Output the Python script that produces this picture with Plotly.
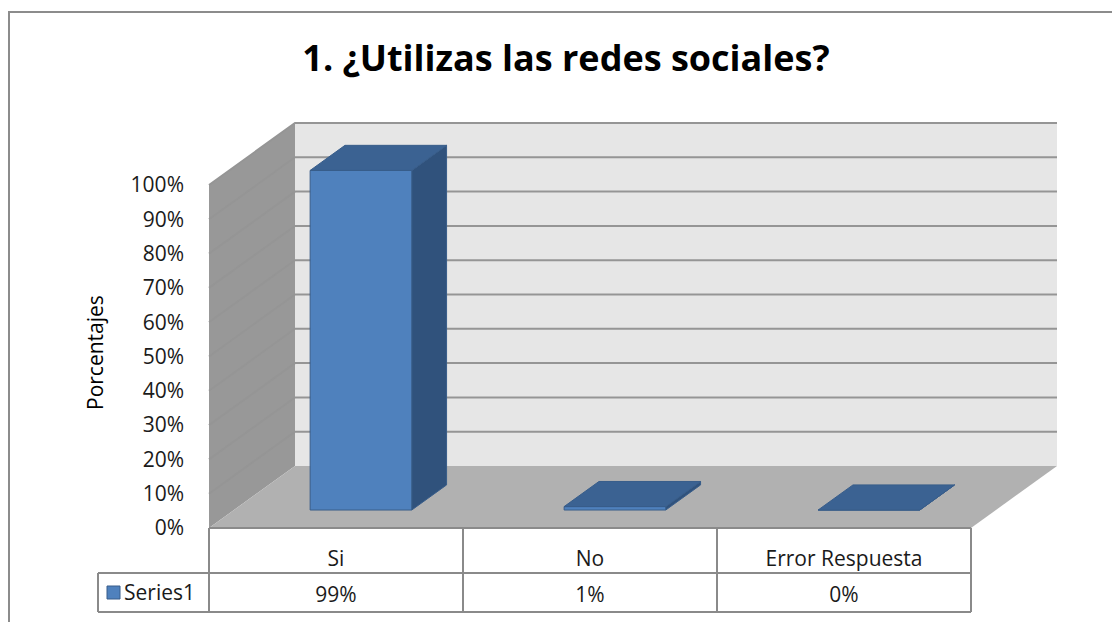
import plotly.graph_objects as go

# ---------------- data ----------------
categories = ["Si", "No", "Error Respuesta"]
values = [99, 1, 0]            # percent
series_name = "Series1"
tick_values = [0, 10, 20, 30, 40, 50, 60, 70, 80, 90, 100]
title_text = "1. ¿Utilizas las redes sociales?"
y_title = "Porcentajes"

# ---------------- layout constants (pixels) ----------------
W, H = 1112, 622
PX0, PY0 = 209, 528        # front-left corner of floor (0%)
SLOT = 254.0               # px per category
UNIT = 3.43                # px per percent
DEPTH_X, DEPTH_Y = 86.0, 62.0   # oblique depth offset

DX = DEPTH_X / SLOT
DY = DEPTH_Y / UNIT
N = len(categories)
BAR_W = 0.40
D0, D1 = 0.29, 0.695       # bar front/back depth fractions

FONT = "Open Sans"
FS = 21
TXT = "#1a1a1a"

def sh(x, y, d):
    return x + d * DX, y + d * DY

def py(pixel_y):
    return (PY0 - pixel_y) / UNIT

def px(pixel_x):
    return (pixel_x - PX0) / SLOT

fig = go.Figure()

def poly(xs, ys, fill, line_color=None, lw=0):
    fig.add_trace(go.Scatter(
        x=list(xs) + [xs[0]], y=list(ys) + [ys[0]], mode="lines",
        fill="toself", fillcolor=fill,
        line=dict(color=line_color or fill, width=lw),
        hoverinfo="skip", showlegend=False))

top = max(tick_values)

# back wall
bx = [sh(0, 0, 1)[0], sh(N, 0, 1)[0], sh(N, top, 1)[0], sh(0, top, 1)[0]]
by = [sh(0, 0, 1)[1], sh(N, 0, 1)[1], sh(N, top, 1)[1], sh(0, top, 1)[1]]
poly(bx, by, "#e6e6e6")
# side wall
poly([0, DX, DX, 0], [0, DY, top + DY, top], "#989898")
# floor
poly([0, DX, N + DX, N], [0, DY, DY, 0], "#b1b1b1")

# gridlines on walls
gx, gy = [], []
for t in tick_values:
    if t == 0:
        continue
    gx += [0, DX, N + DX, None]
    gy += [t, t + DY, t + DY, None]
fig.add_trace(go.Scatter(x=gx, y=gy, mode="lines",
                         line=dict(color="#959595", width=2),
                         hoverinfo="skip", showlegend=False))

# bars
FRONT, TOP, SIDE, EDGE = "#4f81bd", "#3b6292", "#30527c", "#385d8a"
for i, v in enumerate(values):
    xl = i + 0.5 - BAR_W / 2
    xr = i + 0.5 + BAR_W / 2
    p = [sh(xr, 0, D0), sh(xr, 0, D1), sh(xr, v, D1), sh(xr, v, D0)]
    poly([q[0] for q in p], [q[1] for q in p], SIDE, EDGE, 1)
    p = [sh(xl, 0, D0), sh(xr, 0, D0), sh(xr, v, D0), sh(xl, v, D0)]
    poly([q[0] for q in p], [q[1] for q in p], FRONT, EDGE, 1)
    p = [sh(xl, v, D0), sh(xr, v, D0), sh(xr, v, D1), sh(xl, v, D1)]
    poly([q[0] for q in p], [q[1] for q in p], TOP, EDGE, 1)

# data table
ROW1 = py(573)
ROW2 = py(612)
LEG_X = px(98)
tx, ty = [], []
tx += [0, N, None, LEG_X, N, None, LEG_X, N, None]
ty += [0, 0, None, ROW1, ROW1, None, ROW2, ROW2, None]
for k in range(N + 1):
    tx += [k, k, None]
    ty += [0, ROW2, None]
tx += [LEG_X, LEG_X, None]
ty += [ROW1, ROW2, None]
fig.add_trace(go.Scatter(x=tx, y=ty, mode="lines",
                         line=dict(color="#8a8a8a", width=2),
                         hoverinfo="skip", showlegend=False))

cx = [i + 0.5 for i in range(N)]
fig.add_trace(go.Scatter(x=cx, y=[py(561)] * N, mode="text",
                         text=categories, textposition="middle center",
                         textfont=dict(family=FONT, size=FS, color=TXT),
                         hoverinfo="skip", showlegend=False))
fig.add_trace(go.Scatter(x=cx, y=[py(597)] * N, mode="text",
                         text=[f"{v}%" for v in values], textposition="middle center",
                         textfont=dict(family=FONT, size=FS, color=TXT),
                         hoverinfo="skip", showlegend=False))
# legend key
fig.add_trace(go.Scatter(x=[px(113.5)], y=[py(592.5)], mode="markers",
                         marker=dict(symbol="square", size=13, color=FRONT,
                                     line=dict(color=EDGE, width=1)),
                         hoverinfo="skip", showlegend=False))
fig.add_trace(go.Scatter(x=[px(124)], y=[py(595)], mode="text",
                         text=[series_name], textposition="middle right",
                         textfont=dict(family=FONT, size=FS, color=TXT),
                         hoverinfo="skip", showlegend=False))

fig.update_layout(
    width=W, height=H,
    margin=dict(l=0, r=0, t=0, b=0),
    paper_bgcolor="white", plot_bgcolor="white",
    showlegend=False,
    title=dict(text=title_text, x=566 / W, xanchor="center",
               y=1 - 58 / H, yanchor="middle",
               font=dict(family=FONT, size=36, color="#000000", weight="bold")),
    xaxis=dict(range=[px(0), px(W)], visible=False, fixedrange=True),
    yaxis=dict(range=[py(H), py(0)],
               anchor="free", position=PX0 / W, side="left",
               tickmode="array", tickvals=tick_values,
               ticktext=[f"{t}%" for t in tick_values],
               ticks="", showgrid=False, zeroline=False, showline=False,
               ticklabelstandoff=25, fixedrange=True,
               tickfont=dict(family=FONT, size=FS, color=TXT)),
    annotations=[dict(text=y_title, textangle=-90, xref="paper", yref="paper",
                      x=95 / W, y=1 - 353 / H, xanchor="center", yanchor="middle",
                      showarrow=False,
                      font=dict(family=FONT, size=FS, color="#000000"))],
    shapes=[dict(type="rect", xref="paper", yref="paper",
                 x0=9 / W, y0=1 - 12 / H, x1=1.02, y1=-0.02,
                 line=dict(color="#8c8c8c", width=2), layer="below")],
)

fig.write_html("out.html", config={"displayModeBar": False},
               post_script="document.body.style.margin='0';document.body.style.overflow='hidden';")
